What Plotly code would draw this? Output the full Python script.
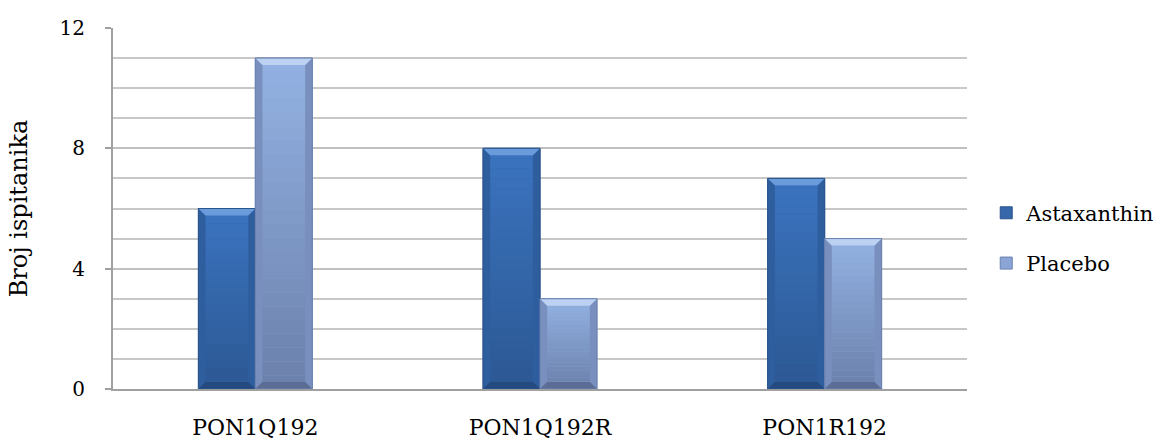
import plotly.graph_objects as go

categories = ["PON1Q192", "PON1Q192R", "PON1R192"]
astaxanthin = [6, 8, 7]
placebo = [11, 3, 5]
y_ticks = [0, 4, 8, 12]

# per-series styling: legend colour, face gradient (top, bottom), bevel colours
styles = {
    "Astaxanthin": dict(legend="#3567AA", face_top="#3B74C0", face_bot="#2C5893",
                        bevel_top="#6A9CDC", side="#2F5E9E", bevel_bot="#244A80",
                        edge="#2A548C"),
    "Placebo": dict(legend="#8AA5D6", face_top="#93B2E3", face_bot="#6B80AB",
                    bevel_top="#BDD2F2", side="#7990BE", bevel_bot="#5B6D95",
                    edge="#6A82B0"),
}
series = [("Astaxanthin", astaxanthin), ("Placebo", placebo)]

SERIF = "DejaVu Serif"
BAR_W = 0.2          # width of one bar in category units (bargap 0.6, two bars)
BEVEL_X = 0.025      # bevel thickness in category units
BEVEL_Y = 0.23       # bevel thickness in value units
BANDS = 24           # steps used for the vertical face gradient


def mix(c1, c2, t):
    a = [int(c1[i:i + 2], 16) for i in (1, 3, 5)]
    b = [int(c2[i:i + 2], 16) for i in (1, 3, 5)]
    return "#" + "".join(f"{round(x + (y - x) * t):02x}" for x, y in zip(a, b))


def poly(pts, col):
    path = "M " + " L ".join(f"{px},{py}" for px, py in pts) + " Z"
    return dict(type="path", path=path, xref="x", yref="y",
                fillcolor=col, line=dict(width=0), layer="above")


fig = go.Figure()
for name, vals in series:
    st = styles[name]
    fig.add_trace(go.Bar(
        name=name, x=categories, y=vals, legendgroup=name,
        marker=dict(color=st["legend"], line=dict(color=st["edge"], width=1)),
    ))

shapes = []
for s_idx, (name, vals) in enumerate(series):
    st = styles[name]
    for c_idx, v in enumerate(vals):
        x0 = c_idx - BAR_W + s_idx * BAR_W
        x1 = x0 + BAR_W
        ix0, ix1 = x0 + BEVEL_X, x1 - BEVEL_X
        # face gradient, top to bottom
        for b in range(BANDS):
            t = (b + 0.5) / BANDS
            ya = v - v * b / BANDS
            yb = v - v * (b + 1) / BANDS
            shapes.append(poly([(x0, yb), (x1, yb), (x1, ya), (x0, ya)],
                               mix(st["face_top"], st["face_bot"], t)))
        iy0, iy1 = BEVEL_Y, v - BEVEL_Y
        shapes.append(poly([(x0, 0), (x0, v), (ix0, iy1), (ix0, iy0)], st["side"]))
        shapes.append(poly([(x1, 0), (x1, v), (ix1, iy1), (ix1, iy0)], st["side"]))
        shapes.append(poly([(x0, 0), (x1, 0), (ix1, iy0), (ix0, iy0)], st["bevel_bot"]))
        shapes.append(poly([(x0, v), (x1, v), (ix1, iy1), (ix0, iy1)], st["bevel_top"]))
        shapes.append(dict(type="rect", xref="x", yref="y", x0=x0, x1=x1, y0=0, y1=v,
                           line=dict(color=st["edge"], width=1), layer="above"))

fig.update_layout(
    width=1163, height=441,
    margin=dict(l=113, r=196, t=28, b=52, autoexpand=False),
    paper_bgcolor="white", plot_bgcolor="white",
    barmode="group", bargap=0.6, bargroupgap=0,
    font=dict(family=SERIF, size=22, color="#000000"),
    shapes=shapes,
    showlegend=True,
    legend=dict(xref="container", yref="container",
                x=0.848, y=0.46, xanchor="left", yanchor="middle",
                font=dict(family=SERIF, size=21), itemwidth=30,
                traceorder="grouped", tracegroupgap=20),
    xaxis=dict(
        showline=True, linecolor="#A0A0A0", linewidth=2,
        showgrid=False, ticks="", tickfont=dict(family=SERIF, size=22),
        ticklabelstandoff=18, automargin=False,
        range=[-0.5, 2.5],
    ),
    yaxis=dict(
        range=[0, 12], tickvals=y_ticks, ticktext=[str(t) for t in y_ticks],
        ticks="outside", ticklen=6, tickcolor="#A0A0A0", tickwidth=2,
        showline=True, linecolor="#A0A0A0", linewidth=2,
        showgrid=True, gridcolor="#C0C0C0", gridwidth=1.5,
        minor=dict(dtick=1, showgrid=True, gridcolor="#C8C8C8", gridwidth=1.5),
        tickfont=dict(family=SERIF, size=20), ticklabelstandoff=16,
        title=dict(text="Broj ispitanika", font=dict(family=SERIF, size=24),
                   standoff=25),
        zeroline=False, automargin=False,
    ),
)

fig.write_html("out.html")
